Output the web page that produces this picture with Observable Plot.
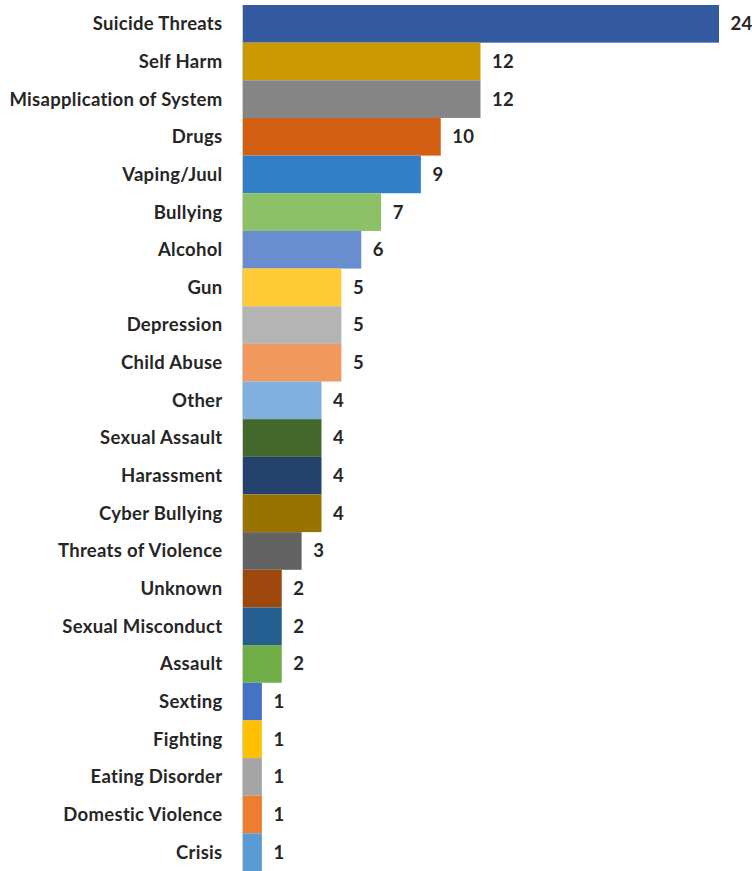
<!DOCTYPE html>
<html>
<head>
<meta charset="utf-8">
<script src="https://cdn.jsdelivr.net/npm/d3@7"></script>
<script src="https://cdn.jsdelivr.net/npm/@observablehq/plot@0.6"></script>
<style>
  html, body { margin: 0; padding: 0; background: #fff; }
  svg text { letter-spacing: 0.3px; }
</style>
</head>
<body>
<div id="chart"></div>
<script>
const categories = ["Suicide Threats","Self Harm","Misapplication of System","Drugs","Vaping/Juul","Bullying","Alcohol","Gun","Depression","Child Abuse","Other","Sexual Assault","Harassment","Cyber Bullying","Threats of Violence","Unknown","Sexual Misconduct","Assault","Sexting","Fighting","Eating Disorder","Domestic Violence","Crisis"];
const counts = [24,12,12,10,9,7,6,5,5,5,4,4,4,4,3,2,2,2,1,1,1,1,1];
const colors = ["#335AA1","#CC9A00","#858585","#D35F12","#3180C7","#8DC167","#698ED0","#FFCA33","#B4B4B4","#F1995D","#7FB0E0","#43682B","#25426F","#997300","#636363","#9E480E","#255E91","#70AD47","#4472C4","#FFC000","#A5A5A5","#ED7D31","#5B9BD5"];

const data = categories.map((c, i) => ({category: c, count: counts[i], color: colors[i]}));

const chart = Plot.plot({
  width: 752,
  height: 871,
  marginLeft: 242,
  marginRight: 33,
  marginTop: 5,
  marginBottom: 0,
  style: {fontFamily: "Lato, 'Open Sans', sans-serif", fontSize: "18.5px", fontWeight: "bold", color: "#262626"},
  x: {domain: [0, 24], axis: null},
  y: {domain: categories, padding: 0, round: false, label: null, tickSize: 0, tickPadding: 20},
  marks: [
    Plot.barX(data, {y: "category", x: "count", fill: "color"}),
    Plot.ruleX([0], {stroke: "#d0d0d0", strokeWidth: 1}),
    Plot.text(data, {y: "category", x: "count", text: d => String(d.count), dx: 11, textAnchor: "start", fill: "#262626", fontWeight: "bold", fontSize: 18.5}),
    Plot.axisY({tickSize: 0, tickPadding: 20, label: null, fontWeight: "bold", fontSize: 18.5})
  ]
});
document.getElementById("chart").appendChild(chart);
</script>
</body>
</html>
